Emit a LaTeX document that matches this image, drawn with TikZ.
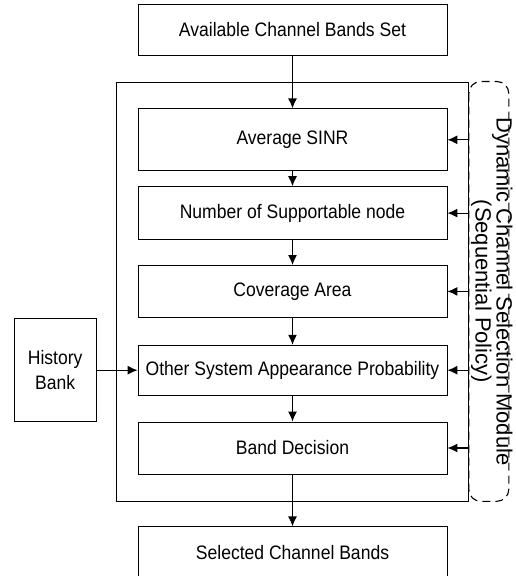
\documentclass[tikz,border=0pt]{standalone}
\usepackage{fontspec}
\setmainfont[FakeStretch=0.9]{Liberation Sans}
\newfontfamily\sidefont{Liberation Sans}
\usepackage{tikz}
\usetikzlibrary{positioning,fit,arrows.meta}

\begin{document}
\begin{tikzpicture}[
    node distance=25pt,
    box/.style={
        rectangle,draw,line width=0.8pt,
        minimum width=309pt,
        minimum height=52pt,
        inner sep=0pt,
        align=center,
        font=\fontsize{19.5}{25}\selectfont
    },
    arrow/.style={-{Latex[length=10pt,width=9pt]},line width=1.2pt}
]
\useasboundingbox (0,0) rectangle (515pt,-576pt);

\node[box, minimum height=51pt] (avail) at (292.5pt,-29.5pt) {Available Channel Bands Set};
\node[box, minimum height=62pt, below=53pt of avail] (avg) {Average SINR};
\node[box, minimum height=53pt, below=15pt of avg] (num) {Number of Supportable node};
\node[box, below=of num] (cov) {Coverage Area};
\node[box, minimum height=50pt, below=27pt of cov] (other) {Other System Appearance Probability};
\node[box, below=26pt of other] (band) {Band Decision};
\node[box, minimum height=51pt, below=52pt of band] (sel) {Selected Channel Bands};
\node[box, minimum width=82pt, minimum height=103pt, left=41pt of other] (hist) {History\\Bank};

% module frame and the dashed policy box
\node[draw, line width=0.8pt, inner xsep=21pt, inner ysep=26.5pt, fit=(avg)(band)] (module) {};
\draw[dash pattern=on 8pt off 5pt, line width=1.1pt, rounded corners=12pt]
    (module.north east) rectangle ([xshift=40pt]module.south east);
\node[rotate=-90, align=center, font=\sidefont\fontsize{22}{21}\selectfont]
    (policy) at ([xshift=23pt]module.east) {Dynamic Channel Selection Module\\(Sequential Policy)};

\draw[arrow] (avail) -- (avg);
\draw[arrow] (avg) -- (num);
\draw[arrow] (num) -- (cov);
\draw[arrow] (cov) -- (other);
\draw[arrow] (other) -- (band);
\draw[arrow] (band) -- (sel);
\draw[arrow] (hist) -- (other);
\foreach \n in {avg,num,cov,other,band}
    \draw[arrow] (\n.east -| module.east) -- (\n.east);
\end{tikzpicture}
\end{document}
